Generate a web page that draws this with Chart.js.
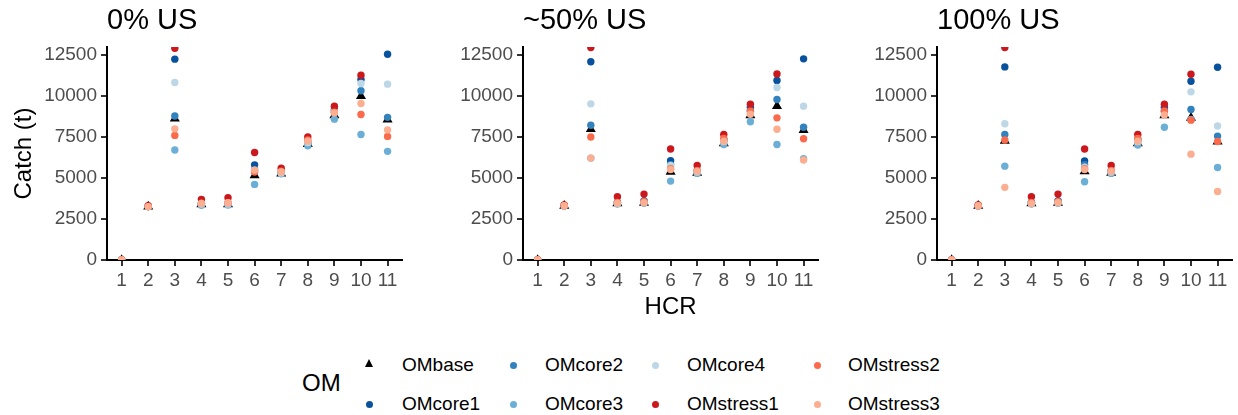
<!DOCTYPE html>
<html>
<head>
<meta charset="utf-8">
<script src="https://cdn.jsdelivr.net/npm/chart.js@4.4.1/dist/chart.umd.min.js"></script>
<style>
  body { margin: 0; background: #fff; font-family: "Liberation Sans", Arial, sans-serif; }
  #wrap { position: relative; width: 1238px; height: 415px; overflow: hidden; }
  #wrap canvas { position: absolute; top: 0; }
  .title { position: absolute; top: 5px; font-size: 29px; line-height: 29px; color: #000; white-space: nowrap; }
  .leg-title { position: absolute; left: 302px; top: 371px; font-size: 24px; line-height: 24px; color: #000; }
  .leg-text { position: absolute; font-size: 19px; line-height: 20px; color: #000; white-space: nowrap; }
  .dot { position: absolute; width: 7px; height: 7px; border-radius: 50%; }
  .tri { position: absolute; width: 0; height: 0; border-left: 4.5px solid transparent; border-right: 4.5px solid transparent; border-bottom: 8px solid #000; }
</style>
</head>
<body>
<div id="wrap">
  <canvas id="p0"></canvas>
  <canvas id="p1"></canvas>
  <canvas id="p2"></canvas>
  <div class="leg-title">OM</div>
</div>
<script>
const HCR = [1, 2, 3, 4, 5, 6, 7, 8, 9, 10, 11];
const Y_TICKS = [0, 2500, 5000, 7500, 10000, 12500];
const PANEL_TITLES = ["0% US", "~50% US", "100% US"];
const OM_NAMES = ["OMbase", "OMcore1", "OMcore2", "OMcore3", "OMcore4", "OMstress1", "OMstress2", "OMstress3"];
const OM_COLORS = ["#000000", "#08519c", "#3182bd", "#6baed6", "#bdd7e7", "#cb181d", "#fb6a4a", "#fcae91"];

// catch (t) per OM, one row per entry of OM_NAMES, columns are HCR 1..11
const CATCH_US0 = [
  [0, 3250, 8600, 3380, 3380, 5150, 5250, 7050, 8800, 9980, 8550],
  [0, 3250, 12220, 3420, 3430, 5790, 5300, 7150, 9150, 10980, 12520],
  [0, 3250, 8760, 3420, 3420, 5500, 5300, 7100, 9000, 10300, 8680],
  [0, 3250, 6690, 3330, 3340, 4600, 5250, 6950, 8570, 7640, 6610],
  [0, 3250, 10800, 3400, 3400, 5450, 5300, 7150, 9050, 10740, 10700],
  [0, 3300, 12880, 3690, 3790, 6540, 5590, 7480, 9360, 11240, null],
  [0, 3250, 7580, 3450, 3480, 5350, 5400, 7300, 9000, 8850, 7520],
  [0, 3250, 7980, 3440, 3480, 5470, 5350, 7230, 8950, 9520, 7920],
];
const CATCH_US50 = [
  [0, 3300, 7960, 3450, 3480, 5370, 5300, 7100, 8800, 9360, 7900],
  [0, 3300, 12060, 3500, 3600, 6040, 5400, 7300, 9300, 10920, 12240],
  [0, 3300, 8200, 3500, 3600, 5800, 5350, 7250, 9100, 9770, 8080],
  [0, 3300, 6200, 3400, 3450, 4800, 5270, 7030, 8410, 7030, 6160],
  [0, 3300, 9500, 3450, 3500, 5750, 5350, 7200, 9000, 10500, 9360],
  [0, 3350, 12930, 3850, 4010, 6750, 5750, 7640, 9480, 11320, null],
  [0, 3300, 7480, 3500, 3550, 5550, 5450, 7400, 9050, 8650, 7380],
  [0, 3300, 6200, 3460, 3490, 5510, 5390, 7230, 8870, 7960, 6080],
];
const CATCH_US100 = [
  [0, 3300, 7250, 3450, 3480, 5400, 5300, 7100, 8800, 8650, 7200],
  [0, 3300, 11750, 3500, 3600, 6020, 5400, 7300, 9300, 10880, 11730],
  [0, 3300, 7640, 3500, 3600, 5800, 5350, 7250, 9100, 9160, 7540],
  [0, 3300, 5710, 3400, 3450, 4760, 5270, 7000, 8080, 8550, 5630],
  [0, 3300, 8290, 3450, 3500, 5650, 5350, 7200, 9000, 10230, 8150],
  [0, 3350, 12930, 3850, 4010, 6750, 5750, 7640, 9480, 11300, null],
  [0, 3300, 7300, 3500, 3550, 5550, 5450, 7400, 9050, 8510, 7210],
  [0, 3300, 4420, 3440, 3490, 5510, 5390, 7230, 8830, 6440, 4170],
];

const FONT = "'Liberation Sans', Arial, sans-serif";
const PLOT_W = 296;
const CANVAS_H = 330;

function drawPanel(id, rows, left, axisW, withYTitle, withXTitle) {
  const canvas = document.getElementById(id);
  const w = axisW + PLOT_W + 5;
  canvas.width = w;
  canvas.height = CANVAS_H;
  canvas.style.left = left + "px";
  canvas.style.width = w + "px";
  canvas.style.height = CANVAS_H + "px";

  const datasets = rows.map((vals, i) => ({
    label: OM_NAMES[i],
    data: vals
      .map((v, j) => ({ x: HCR[j], y: v }))
      .filter((p) => p.y !== null),
    pointStyle: i === 0 ? "triangle" : "circle",
    pointRadius: i === 0 ? 5.8 : 3.7,
    pointBackgroundColor: OM_COLORS[i],
    pointBorderWidth: 0,
    showLine: false,
    clip: 0,
    // first OM sits at the bottom, last one on top
    order: rows.length - i,
  }));

  new Chart(canvas, {
    type: "scatter",
    data: { datasets },
    options: {
      responsive: false,
      animation: false,
      layout: { padding: { top: 47, right: 5, bottom: 0, left: 0 } },
      plugins: { legend: { display: false }, tooltip: { enabled: false } },
      scales: {
        x: {
          type: "linear",
          min: 0.45,
          max: 11.55,
          afterBuildTicks: (s) => { s.ticks = HCR.map((v) => ({ value: v })); },
          afterFit: (s) => { s.height = 70; },
          grid: { drawOnChartArea: false, drawTicks: true, tickLength: 6, color: "#333333", lineWidth: 2 },
          border: { display: true, color: "#000000", width: 2 },
          ticks: {
            color: "#4d4d4d",
            padding: 3,
            maxRotation: 0,
            autoSkip: false,
            font: { family: FONT, size: 19 },
            callback: (v) => String(v),
          },
          title: {
            display: withXTitle,
            text: "HCR",
            color: "#000000",
            font: { family: FONT, size: 24 },
            padding: { top: 0, bottom: 8 },
          },
        },
        y: {
          min: 0,
          max: 12960,
          afterBuildTicks: (s) => { s.ticks = Y_TICKS.map((v) => ({ value: v })); },
          afterFit: (s) => { s.width = axisW; },
          grid: { drawOnChartArea: false, drawTicks: true, tickLength: 6, color: "#333333", lineWidth: 2 },
          border: { display: true, color: "#000000", width: 2 },
          ticks: {
            color: "#4d4d4d",
            padding: 4,
            font: { family: FONT, size: 19 },
            callback: (v) => String(v),
          },
          title: {
            display: withYTitle,
            text: "Catch (t)",
            color: "#000000",
            font: { family: FONT, size: 24 },
            padding: { top: 10, bottom: 0 },
          },
        },
      },
    },
  });
}

drawPanel("p0", CATCH_US0, 0, 107, true, false);
drawPanel("p1", CATCH_US50, 423, 100, false, true);
drawPanel("p2", CATCH_US100, 837, 100, false, false);

// panel titles
const wrap = document.getElementById("wrap");
[107, 523, 937].forEach((x, i) => {
  const d = document.createElement("div");
  d.className = "title";
  d.style.left = x + "px";
  d.textContent = PANEL_TITLES[i];
  wrap.appendChild(d);
});

// legend: two rows, filled column by column
const LEG_SYM_X = [369, 513, 655, 817];
const LEG_TEXT_X = [402, 545, 687, 848];
const LEG_ROW_Y = [365, 404];
OM_NAMES.forEach((name, i) => {
  const col = Math.floor(i / 2);
  const row = i % 2;
  const cy = LEG_ROW_Y[row];
  const sym = document.createElement("div");
  if (i === 0) {
    sym.className = "tri";
    sym.style.left = (LEG_SYM_X[col] - 4.5) + "px";
    sym.style.top = (cy - 6) + "px";
  } else {
    sym.className = "dot";
    sym.style.background = OM_COLORS[i];
    sym.style.left = (LEG_SYM_X[col] - 3.5) + "px";
    sym.style.top = (cy - 3.5) + "px";
  }
  wrap.appendChild(sym);
  const t = document.createElement("div");
  t.className = "leg-text";
  t.style.left = LEG_TEXT_X[col] + "px";
  t.style.top = (cy - 10) + "px";
  t.textContent = name;
  wrap.appendChild(t);
});
</script>
</body>
</html>
